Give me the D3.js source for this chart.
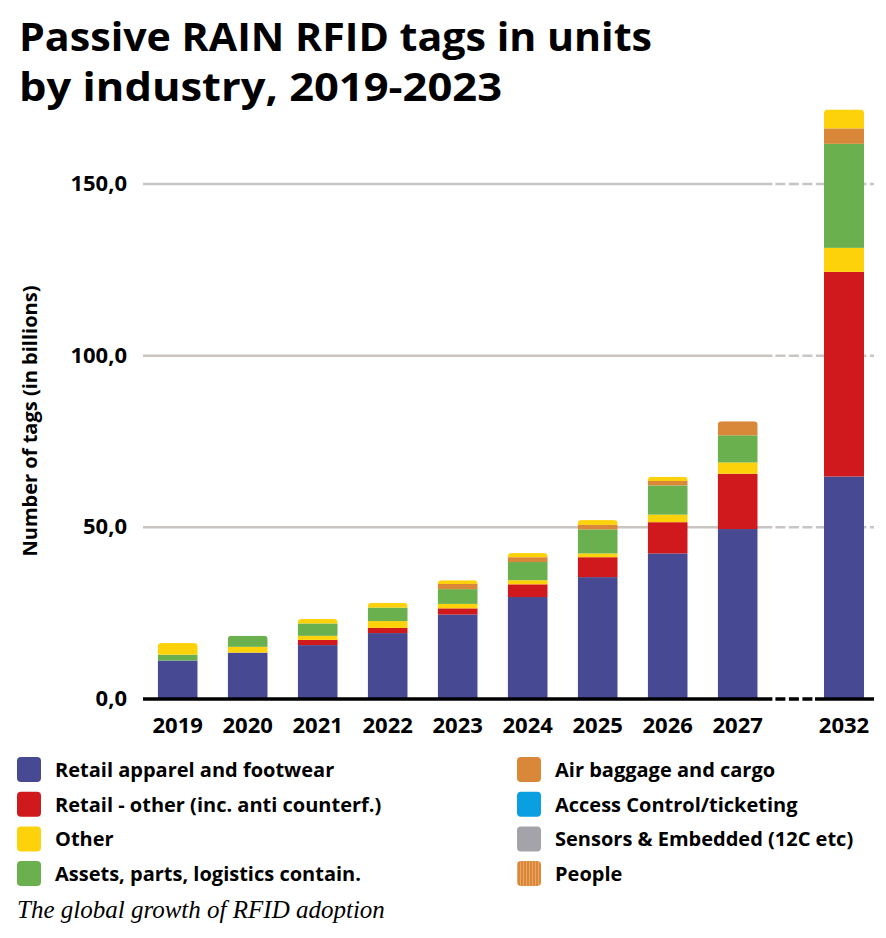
<!DOCTYPE html>
<html>
<head>
<meta charset="utf-8">
<script src="https://cdn.jsdelivr.net/npm/d3@7"></script>
<style>
  body { margin: 0; background: #fff; }
  text { font-family: "Open Sans", "Noto Sans", sans-serif; }
</style>
</head>
<body>
<script>
// Passive RAIN RFID tags by industry, stacked bars

const width = 886, height = 938;

// values in billions of tags
const years = ["2019", "2020", "2021", "2022", "2023", "2024", "2025", "2026", "2027", "2032"];
const retailApparel = [11.2, 13.5, 15.7, 19.2, 24.6, 29.7, 35.5, 42.4, 49.5, 64.8];
const retailOther   = [0, 0, 1.5, 1.5, 1.8, 3.7, 5.8, 9.1, 16.1, 59.6];
const other         = [0, 1.7, 1.2, 2.0, 1.3, 1.2, 1.1, 2.2, 3.3, 7.0];
const assets        = [1.7, 3.2, 3.6, 3.9, 4.3, 5.3, 7.0, 8.5, 7.9, 30.3];
const airBaggage    = [0, 0, 0, 0, 1.5, 1.4, 1.3, 1.3, 4.1, 4.5];
const accessControl = [0, 0, 0, 0, 0, 0, 0, 0, 0, 0];
const sensors       = [0, 0, 0, 0, 0, 0, 0, 0, 0, 0];
const people        = [0, 0, 0, 0, 0, 0, 0, 0, 0, 0];
const otherTop      = [3.4, 0, 1.3, 1.4, 1.1, 1.2, 1.4, 1.2, 0, 5.5];

const yTicks = [0, 50, 100, 150];
const tickLabels = ["0,0", "50,0", "100,0", "150,0"];

const series = [
  {key: "retailApparel", name: "Retail apparel and footwear", values: retailApparel, color: "#474a93"},
  {key: "retailOther", name: "Retail - other (inc. anti counterf.)", values: retailOther, color: "#cf191c"},
  {key: "other", name: "Other", values: other, color: "#fdd20b"},
  {key: "assets", name: "Assets, parts, logistics contain.", values: assets, color: "#6ab04e"},
  {key: "airBaggage", name: "Air baggage and cargo", values: airBaggage, color: "#d9883a"},
  {key: "accessControl", name: "Access Control/ticketing", values: accessControl, color: "#0a9fe1"},
  {key: "sensors", name: "Sensors & Embedded (12C etc)", values: sensors, color: "#a4a3a9"},
  {key: "people", name: "People", values: people, color: "url(#peoplePattern)"},
  {key: "otherTop", name: null, values: otherTop, color: "#fdd20b"}
];

const table = years.map((yr, i) => {
  const row = {year: yr};
  series.forEach(s => row[s.key] = s.values[i]);
  return row;
});

const svg = d3.select("body").append("svg")
  .attr("width", width)
  .attr("height", height);

const defs = svg.append("defs");
const pat = defs.append("pattern")
  .attr("id", "peoplePattern")
  .attr("patternUnits", "userSpaceOnUse")
  .attr("width", 3).attr("height", 3);
pat.append("rect").attr("width", 3).attr("height", 3).attr("fill", "#d9883a");
pat.append("rect").attr("x", 1).attr("width", 1).attr("height", 3).attr("fill", "#eaa565");

// main years and the broken-off 2032 column
const xMain = d3.scaleBand()
  .domain(years.slice(0, 9))
  .range([143, 772.4])
  .paddingInner(3 / 7)
  .paddingOuter(0.21);
const xFar = d3.scaleBand()
  .domain(years.slice(9))
  .range([804, 884])
  .paddingInner(0.5)
  .paddingOuter(0.25);
const xPos = yr => xMain.domain().includes(yr) ? xMain(yr) : xFar(yr);
const bw = xMain.bandwidth();

const y = d3.scaleLinear().domain([0, 150]).range([699, 184]);

const breakStart = xMain.range()[1], breakEnd = 815, axisEnd = 874;

// gridlines
const grid = svg.append("g");
yTicks.filter(t => t > 0).forEach(t => {
  grid.append("line")
    .attr("x1", xMain.range()[0]).attr("x2", breakStart)
    .attr("y1", y(t)).attr("y2", y(t))
    .attr("stroke", "#c8c5c2").attr("stroke-width", 2.5);
  grid.append("line")
    .attr("x1", breakStart + 3).attr("x2", axisEnd)
    .attr("y1", y(t)).attr("y2", y(t))
    .attr("stroke", "#c8c5c2").attr("stroke-width", 2.5)
    .attr("stroke-dasharray", "10,3.5");
});

// stacked bars
const stack = d3.stack().keys(series.map(s => s.key));
const stacked = stack(table);
const colorOf = {};
series.forEach(s => colorOf[s.key] = s.color);

const bars = svg.append("g");
years.forEach((yr, i) => {
  const total = d3.sum(series, s => s.values[i]);
  defs.append("clipPath").attr("id", "clip" + yr)
    .append("rect")
    .attr("x", xPos(yr)).attr("y", y(total))
    .attr("width", bw).attr("height", y(0) - y(total) + 10)
    .attr("rx", 4);
});

stacked.forEach(layer => {
  bars.selectAll(null)
    .data(layer.filter(d => d[1] - d[0] > 0))
    .join("rect")
    .attr("x", d => xPos(d.data.year))
    .attr("y", d => y(d[1]))
    .attr("width", bw)
    .attr("height", d => y(d[0]) - y(d[1]))
    .attr("fill", colorOf[layer.key])
    .attr("clip-path", d => "url(#clip" + d.data.year + ")");
});

// baseline with the break
const base = svg.append("g");
base.append("line")
  .attr("x1", xMain.range()[0]).attr("x2", breakStart)
  .attr("y1", y(0)).attr("y2", y(0))
  .attr("stroke", "#000").attr("stroke-width", 3.5);
base.append("line")
  .attr("x1", breakStart + 3).attr("x2", breakEnd)
  .attr("y1", y(0)).attr("y2", y(0))
  .attr("stroke", "#000").attr("stroke-width", 3.5)
  .attr("stroke-dasharray", "10,3.5");
base.append("line")
  .attr("x1", breakEnd).attr("x2", axisEnd)
  .attr("y1", y(0)).attr("y2", y(0))
  .attr("stroke", "#000").attr("stroke-width", 3.5);

// y tick labels
svg.append("g").selectAll("text")
  .data(yTicks)
  .join("text")
  .attr("x", 127)
  .attr("y", d => y(d) + 7)
  .attr("text-anchor", "end")
  .style("font-size", "22px")
  .style("font-weight", 700)
  .text((d, i) => tickLabels[i]);

// x labels
svg.append("g").selectAll("text")
  .data(years)
  .join("text")
  .attr("x", d => xPos(d) + bw / 2)
  .attr("y", 733)
  .attr("text-anchor", "middle")
  .style("font-size", "22px")
  .style("font-weight", 700)
  .text(d => d);

// y axis title
svg.append("text")
  .attr("transform", "translate(37,421) rotate(-90)")
  .attr("text-anchor", "middle")
  .style("font-size", "20px")
  .style("font-weight", 700)
  .text("Number of tags (in billions)");

// title
const title = svg.append("text")
  .style("font-size", "40px")
  .style("font-weight", 700);
title.append("tspan").attr("x", 19).attr("y", 51)
  .attr("textLength", 633).attr("lengthAdjust", "spacingAndGlyphs")
  .text("Passive RAIN RFID tags in units");
title.append("tspan").attr("x", 19).attr("y", 101)
  .attr("textLength", 483).attr("lengthAdjust", "spacingAndGlyphs")
  .text("by industry, 2019-2023");

// legend
const legendItems = series.filter(s => s.name);
const legend = svg.append("g");
legendItems.forEach((s, i) => {
  const col = Math.floor(i / 4), row = i % 4;
  const lx = col === 0 ? 17 : 517;
  const ly = 757 + row * 34.7;
  legend.append("rect")
    .attr("x", lx).attr("y", ly)
    .attr("width", 24).attr("height", 25)
    .attr("rx", 4)
    .attr("fill", s.color);
  legend.append("text")
    .attr("x", lx + 38).attr("y", ly + 20)
    .style("font-size", "20px")
    .style("font-weight", 700)
    .text(s.name);
});

// caption
svg.append("text")
  .attr("x", 17).attr("y", 918)
  .style("font-family", "'Liberation Serif', 'DejaVu Serif', serif")
  .style("font-style", "italic")
  .style("font-size", "25px")
  .text("The global growth of RFID adoption");
</script>
</body>
</html>
